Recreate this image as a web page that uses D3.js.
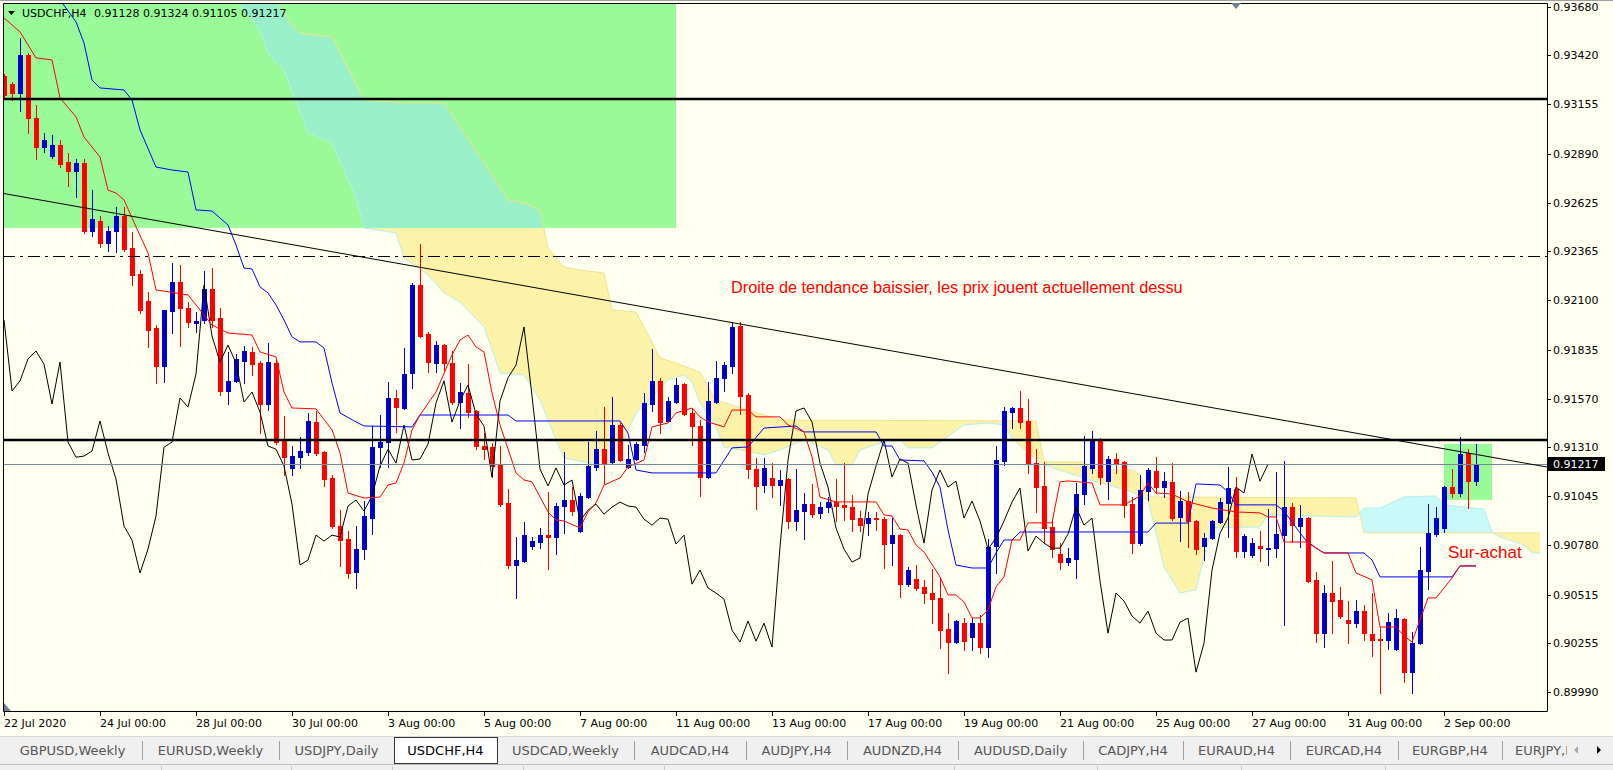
<!DOCTYPE html>
<html>
<head>
<meta charset="utf-8">
<script src="https://cdn.jsdelivr.net/npm/d3@7/dist/d3.min.js"></script>
<style>
html,body{margin:0;padding:0;background:#fffff0;overflow:hidden}
svg{display:block}
</style>
</head>
<body>
<svg id="chart" width="1613" height="770"></svg>
<script>
// ---------------- DATA ----------------
const symbolLabel = "USDCHF,H4";
const headerOHLC = ["0.91128", "0.91324", "0.91105", "0.91217"];
const bidPrice = 0.91217;

const opens = [
0.93309,0.93265,0.93217,0.93422,0.93082,0.92926,0.92878,0.92937,0.92845,0.92797,
0.92840,0.92474,0.92528,0.92409,0.92474,0.92555,0.92382,0.92241,0.92097,0.91951,
0.91746,0.92043,0.92198,0.92059,0.91978,0.91994,0.92161,0.92005,0.91612,0.91666,
0.91773,0.91821,0.91762,0.91541,0.91762,0.91347,0.91197,0.91255,0.91282,0.91444,
0.91282,0.91143,0.90884,0.90813,0.90636,0.90760,0.90927,0.91309,0.91336,0.91574,
0.91520,0.91708,0.92182,0.91919,0.91762,0.91859,0.91762,0.91552,0.91601,0.91504,
0.91315,0.91309,0.91213,0.91008,0.90674,0.90696,0.90776,0.90797,0.90835,0.90825,
0.90992,0.91024,0.90857,0.91040,0.91202,0.91298,0.91229,0.91428,0.91202,0.91245,
0.91320,0.91541,0.91666,0.91450,0.91552,0.91649,0.91493,0.91422,0.91148,0.91552,
0.91682,0.91746,0.91962,0.91590,0.91191,0.91105,0.91143,0.91105,0.91137,0.90911,
0.90965,0.91002,0.90954,0.90986,0.91013,0.90997,0.90986,0.90927,0.90900,0.90927,
0.90921,0.90792,0.90835,0.90571,0.90598,0.90555,0.90523,0.90496,0.90329,0.90259,
0.90361,0.90286,0.90361,0.90232,0.90776,0.91234,0.91498,0.91520,0.91450,0.91223,
0.91100,0.90878,0.90733,0.90690,0.90706,0.91056,0.91197,0.91347,0.91126,0.91245,
0.91229,0.91002,0.90792,0.91073,0.91181,0.91094,0.91121,0.90932,0.91019,0.90911,
0.90776,0.90819,0.90905,0.91008,0.91083,0.90749,0.90728,0.90776,0.90760,0.90765,
0.90835,0.90986,0.90884,0.90927,0.90593,0.90307,0.90523,0.90485,0.90377,0.90361,
0.90426,0.90302,0.90275,0.90270,0.90221,0.90383,0.90097,0.90253,0.90641,0.90840,
0.90873,0.91094,0.91062,0.91277,0.91128];

const highs = [
0.93319,0.93276,0.93513,0.93433,0.93152,0.93002,0.92991,0.92964,0.92894,0.92862,
0.92862,0.92694,0.92555,0.92501,0.92603,0.92603,0.92468,0.92263,0.92145,0.91967,
0.92050,0.92301,0.92290,0.92091,0.92037,0.92258,0.92274,0.92059,0.91821,0.91810,
0.91854,0.91848,0.91773,0.91870,0.91778,0.91477,0.91315,0.91363,0.91493,0.91504,
0.91290,0.91159,0.90970,0.90857,0.90884,0.91019,0.91422,0.91482,0.91660,0.91617,
0.91843,0.92193,0.92404,0.91929,0.91881,0.91865,0.91827,0.91655,0.91756,0.91510,
0.91385,0.91331,0.91315,0.91083,0.90825,0.90905,0.90825,0.90873,0.91067,0.91008,
0.91282,0.91094,0.91062,0.91336,0.91396,0.91525,0.91579,0.91439,0.91320,0.91336,
0.91601,0.91838,0.91682,0.91579,0.91682,0.91655,0.91514,0.91455,0.91660,0.91773,
0.91767,0.91978,0.91983,0.91601,0.91250,0.91250,0.91223,0.91186,0.91143,0.91191,
0.91062,0.91110,0.91013,0.91040,0.91137,0.91223,0.91051,0.90965,0.90959,0.90959,
0.90932,0.90927,0.90840,0.90663,0.90674,0.90593,0.90652,0.90609,0.90415,0.90377,
0.90388,0.90388,0.90404,0.90813,0.91315,0.91525,0.91525,0.91612,0.91568,0.91298,
0.91229,0.90916,0.90792,0.90765,0.91116,0.91369,0.91396,0.91358,0.91261,0.91277,
0.91235,0.91040,0.91159,0.91197,0.91255,0.91175,0.91223,0.91073,0.91067,0.90916,
0.90846,0.90916,0.91035,0.91202,0.91148,0.90840,0.90819,0.90857,0.90975,0.91175,
0.91234,0.91008,0.90997,0.90932,0.90636,0.90566,0.90696,0.90555,0.90480,0.90485,
0.90458,0.90523,0.90340,0.90415,0.90437,0.90388,0.90313,0.90771,0.91002,0.90986,
0.91100,0.91191,0.91363,0.91298,0.91324];

const lows = [
0.93195,0.93179,0.93120,0.93002,0.92862,0.92899,0.92867,0.92818,0.92716,0.92656,
0.92463,0.92447,0.92387,0.92366,0.92360,0.92366,0.92182,0.92032,0.91848,0.91655,
0.91660,0.91924,0.91854,0.91956,0.91929,0.91978,0.91956,0.91590,0.91541,0.91660,
0.91655,0.91697,0.91385,0.91509,0.91325,0.91159,0.91159,0.91197,0.91266,0.91266,
0.91100,0.90873,0.90669,0.90604,0.90550,0.90706,0.90840,0.91202,0.91202,0.91390,
0.91515,0.91628,0.91902,0.91713,0.91713,0.91724,0.91541,0.91412,0.91471,0.91298,
0.91245,0.91148,0.90992,0.90658,0.90496,0.90690,0.90760,0.90765,0.90652,0.90733,
0.90846,0.90943,0.90851,0.91035,0.91186,0.91116,0.91223,0.91234,0.91197,0.91240,
0.91282,0.91504,0.91385,0.91445,0.91547,0.91482,0.91320,0.91046,0.91143,0.91547,
0.91612,0.91708,0.91487,0.91143,0.90975,0.91067,0.91040,0.90997,0.90873,0.90862,
0.90813,0.90932,0.90927,0.90959,0.90911,0.90916,0.90857,0.90857,0.90835,0.90862,
0.90658,0.90674,0.90501,0.90561,0.90539,0.90469,0.90361,0.90226,0.90092,0.90253,
0.90216,0.90216,0.90199,0.90178,0.90631,0.91213,0.91412,0.91412,0.91170,0.90959,
0.90797,0.90717,0.90652,0.90674,0.90604,0.91002,0.91170,0.91110,0.91029,0.91170,
0.90932,0.90739,0.90781,0.91024,0.91062,0.91040,0.90916,0.90803,0.90771,0.90733,
0.90701,0.90813,0.90900,0.90825,0.90717,0.90717,0.90717,0.90696,0.90674,0.90717,
0.90350,0.90797,0.90771,0.90583,0.90259,0.90232,0.90307,0.90388,0.90253,0.90340,
0.90270,0.90183,0.89984,0.90221,0.90216,0.90043,0.89984,0.90248,0.90544,0.90830,
0.90851,0.91040,0.91046,0.90981,0.91105];

const closes = [
0.93206,0.93217,0.93422,0.93082,0.92926,0.92964,0.92937,0.92834,0.92797,0.92840,
0.92474,0.92539,0.92409,0.92474,0.92555,0.92377,0.92236,0.92048,0.91940,0.91746,
0.92048,0.92198,0.92059,0.91983,0.91989,0.92161,0.91994,0.91612,0.91666,0.91784,
0.91827,0.91756,0.91541,0.91767,0.91336,0.91255,0.91261,0.91288,0.91450,0.91277,
0.91137,0.90884,0.90808,0.90631,0.90760,0.90938,0.91309,0.91336,0.91574,0.91525,
0.91703,0.92182,0.91908,0.91767,0.91859,0.91762,0.91552,0.91606,0.91498,0.91315,
0.91298,0.91207,0.91002,0.90674,0.90701,0.90835,0.90803,0.90835,0.90825,0.90992,
0.91024,0.90965,0.91046,0.91207,0.91298,0.91223,0.91428,0.91240,0.91245,0.91325,
0.91547,0.91666,0.91444,0.91558,0.91644,0.91487,0.91422,0.91148,0.91558,0.91682,
0.91751,0.91956,0.91585,0.91191,0.91100,0.91197,0.91105,0.91132,0.90911,0.90970,
0.91002,0.90948,0.90986,0.91013,0.90992,0.90986,0.90921,0.90889,0.90927,0.90921,
0.90787,0.90835,0.90571,0.90647,0.90550,0.90523,0.90490,0.90323,0.90259,0.90372,
0.90264,0.90361,0.90232,0.90771,0.91240,0.91504,0.91520,0.91444,0.91223,0.91094,
0.90873,0.90760,0.90690,0.90712,0.91056,0.91207,0.91347,0.91148,0.91245,0.91223,
0.90997,0.90792,0.91078,0.91186,0.91094,0.91126,0.90927,0.91019,0.90911,0.90760,
0.90819,0.90911,0.91013,0.91089,0.90749,0.90830,0.90792,0.90765,0.90765,0.90840,
0.90986,0.90889,0.90927,0.90588,0.90307,0.90523,0.90480,0.90399,0.90361,0.90426,
0.90307,0.90270,0.90270,0.90366,0.90388,0.90097,0.90253,0.90647,0.90846,0.90927,
0.91094,0.91062,0.91272,0.91126,0.91217];

// Ichimoku lines: [bar index, price]
const tenkan = [[0,0.93621],[2,0.93546],[4,0.93406],[6,0.93395],[7,0.93190],[9,0.93088],[10,0.92980],[12,0.92872],[13,0.92694],[14,0.92678],[15,0.92641],[16,0.92544],[18,0.92355],[19,0.92156],[23,0.92129],[25,0.92021],[26,0.91967],[28,0.91924],[31,0.91913],[32,0.91822],[34,0.91795],[35,0.91606],[36,0.91520],[39,0.91515],[41,0.91402],[42,0.91278],[43,0.91062],[45,0.91035],[47,0.91040],[48,0.91105],[49,0.91116],[50,0.91224],[51,0.91402],[52,0.91482],[54,0.91606],[56,0.91806],[57,0.91886],[58,0.91913],[59,0.91849],[60,0.91822],[61,0.91601],[62,0.91429],[64,0.91170],[65,0.91132],[66,0.91122],[68,0.90960],[69,0.90917],[70,0.90911],[72,0.90874],[73,0.90960],[74,0.91008],[75,0.91105],[77,0.91143],[78,0.91202],[80,0.91240],[81,0.91418],[83,0.91439],[84,0.91493],[86,0.91520],[87,0.91472],[88,0.91445],[90,0.91418],[91,0.91509],[93,0.91509],[94,0.91472],[97,0.91472],[98,0.91429],[100,0.91391],[101,0.91256],[102,0.91040],[104,0.91014],[109,0.91014],[110,0.90944],[111,0.90938],[112,0.90868],[113,0.90863],[114,0.90782],[115,0.90744],[117,0.90610],[118,0.90513],[119,0.90513],[120,0.90475],[121,0.90389],[122,0.90389],[123,0.90432],[124,0.90556],[125,0.90610],[126,0.90809],[127,0.90809],[128,0.90901],[131,0.90901],[132,0.91122],[133,0.91127],[136,0.91116],[137,0.90998],[140,0.90998],[142,0.91046],[143,0.91116],[144,0.91062],[146,0.91057],[148,0.91014],[151,0.90981],[154,0.90960],[157,0.90955],[158,0.90933],[159,0.90933],[160,0.90798],[163,0.90798],[164,0.90766],[165,0.90739],[168,0.90739],[169,0.90631],[171,0.90594],[172,0.90340],[174,0.90340],[175,0.90292],[176,0.90260],[177,0.90378],[178,0.90497],[179,0.90497],[181,0.90604],[182,0.90669],[184,0.90669]];

const kijun = [[6,0.93772],[7,0.93718],[9,0.93600],[10,0.93486],[11,0.93287],[12,0.93244],[15,0.93233],[16,0.93179],[17,0.93018],[19,0.92818],[21,0.92802],[23,0.92791],[24,0.92587],[26,0.92581],[28,0.92506],[29,0.92398],[30,0.92274],[31,0.92269],[32,0.92172],[33,0.92140],[34,0.92075],[35,0.91994],[36,0.91903],[37,0.91876],[39,0.91876],[40,0.91843],[41,0.91655],[42,0.91493],[44,0.91445],[45,0.91423],[51,0.91418],[52,0.91482],[63,0.91482],[64,0.91450],[77,0.91450],[78,0.91385],[79,0.91186],[81,0.91170],[89,0.91170],[91,0.91305],[93,0.91310],[95,0.91412],[99,0.91423],[100,0.91391],[109,0.91391],[110,0.91315],[111,0.91315],[112,0.91240],[115,0.91235],[116,0.91175],[117,0.91094],[118,0.90863],[119,0.90674],[121,0.90658],[123,0.90658],[124,0.90739],[125,0.90809],[126,0.90809],[127,0.90852],[143,0.90852],[144,0.90900],[148,0.90900],[149,0.91111],[152,0.91105],[153,0.91068],[154,0.90998],[159,0.90998],[160,0.90965],[162,0.90847],[163,0.90793],[165,0.90739],[170,0.90739],[171,0.90701],[172,0.90610],[181,0.90610],[182,0.90669],[184,0.90669]];

const spanA = [[26,0.93933],[29,0.93718],[32,0.93556],[33,0.93432],[35,0.93341],[38,0.93007],[41,0.92948],[44,0.92657],[45,0.92490],[49,0.92463],[50,0.92328],[53,0.92237],[55,0.92140],[57,0.92091],[60,0.91957],[62,0.91709],[65,0.91698],[67,0.91563],[69,0.91348],[70,0.91251],[73,0.91224],[76,0.91224],[77,0.91305],[79,0.91493],[81,0.91579],[83,0.91671],[85,0.91698],[86,0.91660],[87,0.91547],[89,0.91418],[90,0.91310],[92,0.91294],[95,0.91267],[97,0.91294],[100,0.91348],[103,0.91294],[104,0.91213],[106,0.91213],[107,0.91294],[110,0.91337],[112,0.91348],[113,0.91305],[116,0.91305],[120,0.91429],[123,0.91439],[125,0.91429],[126,0.91358],[128,0.91278],[130,0.91213],[135,0.91143],[141,0.91068],[143,0.91025],[144,0.90847],[145,0.90664],[147,0.90524],[149,0.90540],[150,0.90718],[151,0.90874],[157,0.90879],[158,0.90944],[169,0.90933],[170,0.90981],[172,0.90981],[175,0.91041],[179,0.91046],[180,0.90998],[185,0.90976],[186,0.90852],[187,0.90825],[190,0.90782],[191,0.90739],[192,0.90739]];

const spanB = [[26,0.94311],[34,0.93718],[36,0.93583],[37,0.93540],[41,0.93519],[45,0.93179],[50,0.93163],[55,0.93163],[61,0.92775],[63,0.92641],[65,0.92624],[67,0.92587],[68,0.92382],[70,0.92280],[72,0.92263],[75,0.92247],[76,0.92048],[79,0.92037],[80,0.91957],[82,0.91789],[84,0.91762],[87,0.91713],[88,0.91633],[89,0.91563],[93,0.91509],[97,0.91455],[129,0.91450],[130,0.91229],[135,0.91229],[136,0.91186],[141,0.91186],[142,0.91159],[143,0.91041],[169,0.91035],[170,0.90847],[192,0.90847]];

// chart objects
const levelLines = [0.93185, 0.91348];
const dashDotLevel = 0.92339;
const trendLine = [[0, 0.92675], [193, 0.91201]];
const zones = [[-1, 0.94200, 84, 0.92490], [180, 0.91326, 186, 0.91025]];
const notes = [
  {text: "Droite de tendance baissier, les prix jouent actuellement dessu", bar: 90.875, price: 0.92140},
  {text: "Sur-achat", bar: 180.5, price: 0.90712}
];

// axes
const priceTicks = [0.93680,0.93420,0.93155,0.92890,0.92625,0.92365,0.92100,0.91835,0.91570,0.91310,0.91045,0.90780,0.90515,0.90255,0.89990];
const dateTickBars = [0,12,24,36,48,60,72,84,96,108,120,132,144,156,168,180];
const dateTickLabels = ["22 Jul 2020","24 Jul 00:00","28 Jul 00:00","30 Jul 00:00","3 Aug 00:00","5 Aug 00:00","7 Aug 00:00","11 Aug 00:00","13 Aug 00:00","17 Aug 00:00","19 Aug 00:00","21 Aug 00:00","25 Aug 00:00","27 Aug 00:00","31 Aug 00:00","2 Sep 00:00"];

const tabNames = ["GBPUSD,Weekly","EURUSD,Weekly","USDJPY,Daily","USDCHF,H4","USDCAD,Weekly","AUDCAD,H4","AUDJPY,H4","AUDNZD,H4","AUDUSD,Daily","CADJPY,H4","EURAUD,H4","EURCAD,H4","EURGBP,H4","EURJPY,H4"];
const activeTab = "USDCHF,H4";

// ---------------- LAYOUT / STYLE ----------------
const W = 1613, H = 770;
const P = {l: 3, r: 1547, t: 3, b: 711};
const tabEdges = [3,142,279,394,497,634,746,847,958,1083,1183,1290,1398,1502,1567];
const noteSizes = [16.3, 17];
const C = {
  bg: "#fffff0", green: "#98fb98", mint: "#98f0c8", yellow: "#fdf3a8", cyan: "#c8f8f8",
  spanA: "#b4eeee", spanB: "#efe28e", bull: "#0000cd", bear: "#ff0000",
  tenkan: "#ff0000", kijun: "#0000ff", chikou: "#000000", bid: "#778899"
};
const FONT = "'DejaVu Sans', Verdana, sans-serif";
const ARIAL = "'Liberation Sans', Arial, sans-serif";

const svg = d3.select("#chart");
svg.append("rect").attr("width", W).attr("height", H).attr("fill", C.bg);

const x = d3.scaleLinear().domain([0, 193]).range([4, 1548]);
const y = d3.scaleLinear().domain([0.89990, 0.93680]).range([692, 7]);

const defs = svg.append("defs");
defs.append("clipPath").attr("id", "plotClip").append("rect")
  .attr("x", P.l).attr("y", P.t).attr("width", P.r - P.l).attr("height", P.b - P.t);

function closedPath(pairs, edge) {
  const pts = pairs.map(d => [x(d[0]), y(d[1])]);
  const first = pts[0], last = pts[pts.length - 1];
  return "M" + pts.map(p => p.join(",")).join("L") + "L" + last[0] + "," + edge + "L" + first[0] + "," + edge + "Z";
}
[["belowA", spanA, 3000], ["aboveA", spanA, -3000], ["belowB", spanB, 3000], ["aboveB", spanB, -3000]]
  .forEach(([id, pairs, edge]) => defs.append("clipPath").attr("id", id).append("path").attr("d", closedPath(pairs, edge)));
defs.append("clipPath").attr("id", "zone1Clip").append("rect")
  .attr("x", x(zones[0][0])).attr("y", y(zones[0][1]))
  .attr("width", x(zones[0][2]) - x(zones[0][0])).attr("height", y(zones[0][3]) - y(zones[0][1]));

const plotG = svg.append("g").attr("clip-path", "url(#plotClip)");

const cx0 = x(spanA[0][0]), cx1 = x(spanA[spanA.length - 1][0]);
function cloudFill(parent, outer, inner, color) {
  parent.append("g").attr("clip-path", `url(#${outer})`)
    .append("g").attr("clip-path", `url(#${inner})`)
    .append("rect").attr("x", cx0).attr("y", -3000).attr("width", cx1 - cx0).attr("height", 6000).attr("fill", color);
}
// bearish kumo (span B above span A) and bullish kumo
cloudFill(plotG, "belowB", "aboveA", C.yellow);
cloudFill(plotG, "belowA", "aboveB", C.cyan);

// rectangles (zones)
plotG.selectAll("rect.zone").data(zones).join("rect").attr("class", "zone")
  .attr("x", d => x(d[0])).attr("y", d => y(d[1]))
  .attr("width", d => x(d[2]) - x(d[0])).attr("height", d => y(d[3]) - y(d[1]))
  .attr("fill", C.green);
// cloud seen through the first zone
const mintG = plotG.append("g").attr("clip-path", "url(#zone1Clip)");
cloudFill(mintG, "belowB", "aboveA", C.mint);

const line = d3.line().x(d => x(d[0])).y(d => y(d[1]));
plotG.append("path").attr("d", line(spanA)).attr("fill", "none").attr("stroke", C.spanA).attr("stroke-width", 1);
plotG.append("path").attr("d", line(spanB)).attr("fill", "none").attr("stroke", C.spanB).attr("stroke-width", 1);

// candles
const idx = d3.range(closes.length);
const colorOf = i => closes[i] >= opens[i] ? C.bull : C.bear;
const cg = plotG.append("g");
cg.selectAll("line").data(idx).join("line")
  .attr("x1", i => Math.round(x(i)) + 0.5).attr("x2", i => Math.round(x(i)) + 0.5)
  .attr("y1", i => Math.round(y(highs[i]))).attr("y2", i => Math.round(y(lows[i])) + 1)
  .attr("stroke", colorOf).attr("stroke-width", 1);
cg.selectAll("rect").data(idx).join("rect")
  .attr("x", i => Math.round(x(i)) - 2)
  .attr("y", i => Math.round(y(Math.max(opens[i], closes[i]))))
  .attr("width", 5)
  .attr("height", i => Math.max(1, Math.round(y(Math.min(opens[i], closes[i]))) - Math.round(y(Math.max(opens[i], closes[i]))) + 1))
  .attr("fill", colorOf);

// indicator lines
const chikou = closes.slice(26).map((c, i) => [i, c]);
[[chikou, C.chikou], [kijun, C.kijun], [tenkan, C.tenkan]].forEach(([d, col]) => {
  plotG.append("path").attr("d", line(d)).attr("fill", "none").attr("stroke", col).attr("stroke-width", 1);
});

// horizontal objects
plotG.selectAll("line.lvl").data(levelLines).join("line").attr("class", "lvl")
  .attr("x1", P.l).attr("x2", P.r).attr("y1", d => Math.round(y(d))).attr("y2", d => Math.round(y(d)))
  .attr("stroke", "#000").attr("stroke-width", 2.4);
plotG.append("line").attr("x1", P.l).attr("x2", P.r)
  .attr("y1", Math.round(y(dashDotLevel)) + 0.5).attr("y2", Math.round(y(dashDotLevel)) + 0.5)
  .attr("stroke", "#000").attr("stroke-width", 1).attr("stroke-dasharray", "12,5,3,5");
plotG.append("line").attr("x1", P.l).attr("x2", P.r)
  .attr("y1", Math.round(y(bidPrice)) + 0.5).attr("y2", Math.round(y(bidPrice)) + 0.5)
  .attr("stroke", C.bid).attr("stroke-width", 1);
plotG.append("path").attr("d", line(trendLine)).attr("stroke", "#000").attr("stroke-width", 1).attr("fill", "none");

// annotations
plotG.selectAll("text.note").data(notes).join("text").attr("class", "note")
  .attr("x", d => x(d.bar)).attr("y", d => y(d.price))
  .attr("font-family", ARIAL).attr("font-size", (d, i) => noteSizes[i]).attr("fill", "#ff0000")
  .text(d => d.text);

// frame
svg.append("path").attr("d", `M${P.l + 0.5},${P.t + 0.5}H${P.r + 0.5}V${P.b + 0.5}H${P.l + 0.5}Z`)
  .attr("fill", "none").attr("stroke", "#000").attr("stroke-width", 1);
svg.append("line").attr("x1", 0).attr("x2", W).attr("y1", 0.5).attr("y2", 0.5).attr("stroke", "#a0a0a0");
// small markers
svg.append("path").attr("d", "M1231,3L1241,3L1236,9Z").attr("fill", "#708090");
svg.append("path").attr("d", `M${P.l + 1},${P.b}L${P.l + 1},${P.b - 8}L${P.l + 8},${P.b}Z`).attr("fill", "#708090");

// header
svg.append("path").attr("d", "M8,11L15,11L11.5,15Z").attr("fill", "#000");
svg.append("text").attr("x", 22).attr("y", 17).attr("font-family", FONT).attr("font-size", 11).attr("fill", "#000").text(symbolLabel);
svg.append("text").attr("x", 94).attr("y", 17).attr("font-family", FONT).attr("font-size", 11).attr("fill", "#000").text(headerOHLC.join(" "));

// price axis
const pa = svg.append("g");
pa.selectAll("line").data(priceTicks).join("line")
  .attr("x1", P.r).attr("x2", P.r + 4).attr("y1", d => Math.round(y(d)) + 0.5).attr("y2", d => Math.round(y(d)) + 0.5)
  .attr("stroke", "#000");
pa.selectAll("text").data(priceTicks).join("text")
  .attr("x", 1553).attr("y", d => y(d) + 4)
  .attr("font-family", FONT).attr("font-size", 11).attr("fill", "#000")
  .text(d => d.toFixed(5));
const by = Math.round(y(bidPrice));
svg.append("rect").attr("x", 1548).attr("y", by - 7).attr("width", 57).attr("height", 14).attr("fill", "#000");
svg.append("text").attr("x", 1553).attr("y", by + 4).attr("font-family", FONT).attr("font-size", 11).attr("fill", "#fff").text(bidPrice.toFixed(5));

// time axis
const ta = svg.append("g");
ta.selectAll("line").data(dateTickBars).join("line")
  .attr("x1", d => Math.round(x(d)) + 0.5).attr("x2", d => Math.round(x(d)) + 0.5)
  .attr("y1", P.b).attr("y2", P.b + 5).attr("stroke", "#000");
ta.selectAll("text").data(dateTickBars).join("text")
  .attr("x", d => Math.max(P.l + 1, x(d))).attr("y", 727)
  .attr("font-family", FONT).attr("font-size", 11).attr("fill", "#000")
  .text((d, i) => dateTickLabels[i]);

// tab bar
const tb = svg.append("g");
tb.append("rect").attr("x", 0).attr("y", 736).attr("width", W).attr("height", 34).attr("fill", "#f0f0f0");
tb.append("line").attr("x1", 0).attr("x2", W).attr("y1", 736.5).attr("y2", 736.5).attr("stroke", "#d8d8d8");
tb.append("line").attr("x1", 0).attr("x2", W).attr("y1", 764.5).attr("y2", 764.5).attr("stroke", "#bdbdbd");
defs.append("clipPath").attr("id", "tabClip").append("rect").attr("x", 0).attr("y", 730).attr("width", 1567).attr("height", 40);
const ai = tabNames.indexOf(activeTab);
tb.append("rect").attr("x", tabEdges[ai] + 0.5).attr("y", 737.5).attr("width", tabEdges[ai + 1] - tabEdges[ai]).attr("height", 26)
  .attr("fill", "#fff").attr("stroke", "#333");
tb.selectAll("line.sep").data(tabEdges.slice(1, -1).filter((e, i) => i + 1 !== ai && i !== ai)).join("line").attr("class", "sep")
  .attr("x1", d => d + 0.5).attr("x2", d => d + 0.5).attr("y1", 741).attr("y2", 760).attr("stroke", "#a0a0a0");
tb.append("g").attr("clip-path", "url(#tabClip)").selectAll("text").data(tabNames).join("text")
  .attr("x", (d, i) => i === tabNames.length - 1 ? tabEdges[i] + 13 : (tabEdges[i] + tabEdges[i + 1]) / 2)
  .attr("text-anchor", (d, i) => i === tabNames.length - 1 ? "start" : "middle")
  .attr("y", 755).attr("font-family", FONT).attr("font-size", 13)
  .attr("fill", d => d === activeTab ? "#000" : "#555").text(d => d);
tb.append("path").attr("d", "M1578,746L1578,754L1574,750Z").attr("fill", "#a8a8a8");
tb.append("path").attr("d", "M1597,746L1597,754L1601,750Z").attr("fill", "#000");
[161, 291, 392, 523, 664, 954, 1097, 1241, 1385].forEach(sx => {
  tb.append("line").attr("x1", sx + 0.5).attr("x2", sx + 0.5).attr("y1", 766).attr("y2", 770).attr("stroke", "#c8c8c8");
});
</script>
</body>
</html>
